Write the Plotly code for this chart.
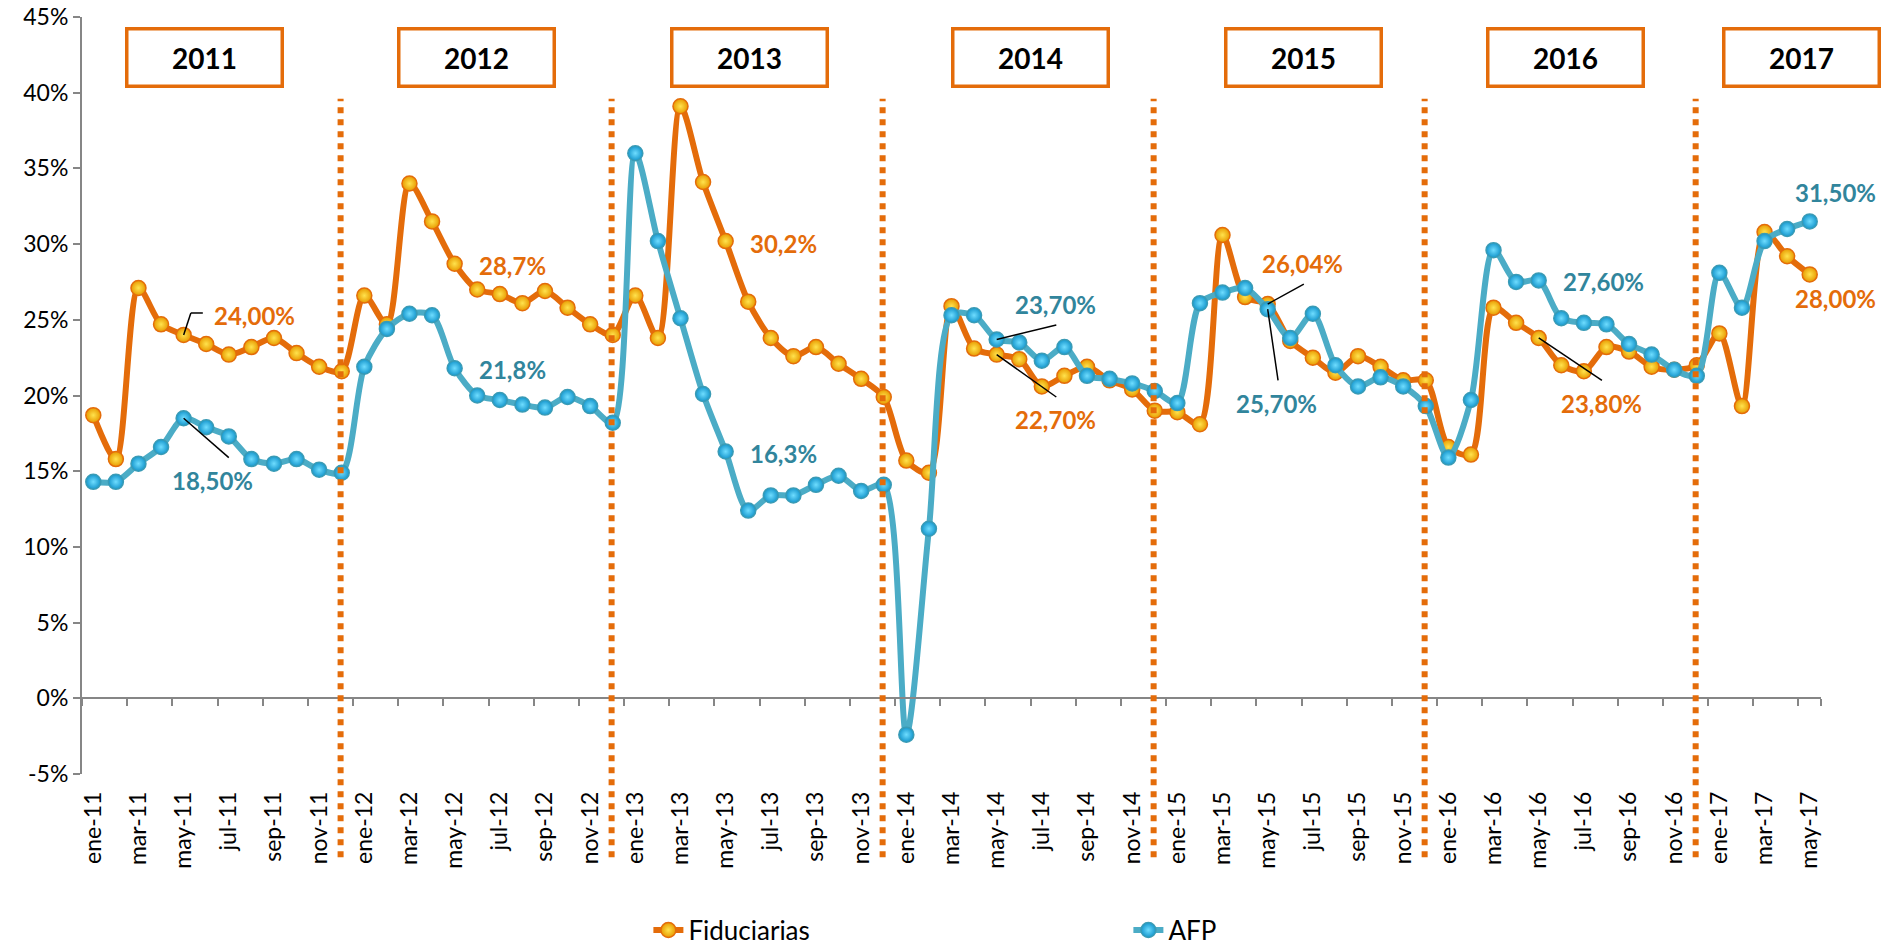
import plotly.graph_objects as go

# meses ene-11 .. may-17
MESES = ["ene", "feb", "mar", "abr", "may", "jun", "jul", "ago", "sep", "oct", "nov", "dic"]
months = [f"{m}-{y}" for y in range(11, 18) for m in MESES][:77]

fid_2011 = [18.7, 15.8, 27.1, 24.7, 24.0, 23.4, 22.7, 23.2, 23.8, 22.8, 21.9, 21.6]
fid_2012 = [26.6, 24.7, 34.0, 31.5, 28.7, 27.0, 26.7, 26.1, 26.9, 25.8, 24.7, 24.0]
fid_2013 = [26.6, 23.8, 39.1, 34.1, 30.2, 26.2, 23.8, 22.6, 23.2, 22.1, 21.1, 19.9]
fid_2014 = [15.7, 14.9, 25.9, 23.1, 22.7, 22.4, 20.6, 21.3, 21.9, 21.0, 20.4, 19.0]
fid_2015 = [18.9, 18.1, 30.6, 26.5, 26.04, 23.6, 22.5, 21.5, 22.6, 21.9, 21.0, 21.0]
fid_2016 = [16.6, 16.1, 25.8, 24.8, 23.8, 22.0, 21.6, 23.2, 22.9, 21.9, 21.7, 22.0]
fid_2017 = [24.1, 19.3, 30.8, 29.2, 28.0]

afp_2011 = [14.3, 14.3, 15.5, 16.6, 18.5, 17.9, 17.3, 15.8, 15.5, 15.8, 15.1, 14.9]
afp_2012 = [21.9, 24.4, 25.4, 25.3, 21.8, 20.0, 19.7, 19.4, 19.2, 19.9, 19.3, 18.2]
afp_2013 = [36.0, 30.2, 25.1, 20.1, 16.3, 12.4, 13.4, 13.4, 14.1, 14.7, 13.7, 14.1]
afp_2014 = [-2.4, 11.2, 25.3, 25.3, 23.7, 23.5, 22.3, 23.2, 21.3, 21.1, 20.8, 20.3]
afp_2015 = [19.5, 26.1, 26.8, 27.1, 25.7, 23.8, 25.4, 22.0, 20.6, 21.2, 20.6, 19.3]
afp_2016 = [15.9, 19.7, 29.6, 27.5, 27.6, 25.1, 24.8, 24.7, 23.4, 22.7, 21.7, 21.3]
afp_2017 = [28.1, 25.8, 30.2, 31.0, 31.5]

fiduciarias = fid_2011 + fid_2012 + fid_2013 + fid_2014 + fid_2015 + fid_2016 + fid_2017
afp = afp_2011 + afp_2012 + afp_2013 + afp_2014 + afp_2015 + afp_2016 + afp_2017

y_ticks = [-5, 0, 5, 10, 15, 20, 25, 30, 35, 40, 45]
y_ticktext = ["-5%", "0%", "5%", "10%", "15%", "20%", "25%", "30%", "35%", "40%", "45%"]

years = ["2011", "2012", "2013", "2014", "2015", "2016", "2017"]
year_box_x = [4.94, 16.98, 29.06, 41.5, 53.6, 65.2, 75.65]

# (text, x, y, serie)
labels = [
    ("24,00%", 5.25, 25.3, "fid"),
    ("18,50%", 3.38, 14.4, "afp"),
    ("28,7%", 16.98, 28.6, "fid"),
    ("21,8%", 16.98, 21.7, "afp"),
    ("30,2%", 29.0, 30.05, "fid"),
    ("16,3%", 29.0, 16.2, "afp"),
    ("23,70%", 40.74, 26.0, "afp"),
    ("22,70%", 40.74, 18.4, "fid"),
    ("26,04%", 51.67, 28.7, "fid"),
    ("25,70%", 50.5, 19.5, "afp"),
    ("27,60%", 65.0, 27.5, "afp"),
    ("23,80%", 64.9, 19.45, "fid"),
    ("31,50%", 75.25, 33.4, "afp"),
    ("28,00%", 75.25, 26.4, "fid"),
]

# leader lines (x0, y0, x1, y1)
leaders = [
    (4, 24.0, 4.32, 25.45),
    (4.32, 25.45, 4.85, 25.45),
    (4, 18.5, 6.0, 15.9),
    (40, 23.7, 42.64, 24.65),
    (40, 22.7, 42.64, 19.9),
    (52, 26.04, 53.6, 27.36),
    (52, 25.7, 52.46, 21.0),
    (64, 23.8, 66.8, 21.0),
]

ORANGE = "#E46C0A"
TEAL = "#4BACC6"
TEAL_TXT = "#31859C"
AXIS = "#868686"
FONT = "Lato"

fig = go.Figure()
fig.add_trace(go.Scatter(
    x=months, y=fiduciarias, name="Fiduciarias", mode="lines+markers",
    line=dict(color=ORANGE, width=6, shape="spline", smoothing=0.8),
    marker=dict(size=15, color="#E89A00", line=dict(color=ORANGE, width=1.5),
                gradient=dict(type="radial", color="#FFE34D")),
))
fig.add_trace(go.Scatter(
    x=months, y=afp, name="AFP", mode="lines+markers",
    line=dict(color=TEAL, width=6, shape="spline", smoothing=0.8),
    marker=dict(size=15, color="#1596CC", line=dict(color="#3A9BB5", width=1.5),
                gradient=dict(type="radial", color="#6FDDFF")),
))
# invisible carrier for the zero-line axis with ticks
fig.add_trace(go.Scatter(x=months, y=afp, xaxis="x2", mode="lines", opacity=0,
                         showlegend=False, hoverinfo="skip"))

for i, m in enumerate(months):
    if m.startswith("dic"):
        fig.add_shape(type="line", xref="x", yref="paper", x0=i - 0.05, x1=i - 0.05,
                      y0=-0.11, y1=0.892, layer="above",
                      line=dict(color=ORANGE, width=6, dash="6px,6px"))

for x0, y0, x1, y1 in leaders:
    fig.add_shape(type="line", xref="x", yref="y", x0=x0, y0=y0, x1=x1, y1=y1,
                  layer="above", line=dict(color="black", width=1.5))

for yr, bx in zip(years, year_box_x):
    fig.add_annotation(x=bx, y=42.3, xref="x", yref="y", text=f"<b>{yr}</b>",
                       showarrow=False, width=150, height=52, borderpad=1,
                       bordercolor=ORANGE, borderwidth=3.5, bgcolor="white",
                       font=dict(family=FONT, size=28, color="black"))

for txt, x, y, s in labels:
    fig.add_annotation(x=x, y=y, xref="x", yref="y", text=f"<b>{txt}</b>",
                       showarrow=False, xanchor="left",
                       font=dict(family=FONT, size=24, color=ORANGE if s == "fid" else TEAL_TXT))

fig.update_layout(
    width=1884, height=951,
    margin=dict(l=82, r=63, t=17, b=177),
    plot_bgcolor="white", paper_bgcolor="white",
    font=dict(family=FONT, size=23, color="black"),
    xaxis=dict(type="category", range=[-0.5, 76.5], tickmode="array",
               tickvals=months[::2], ticktext=months[::2], tickangle=-90,
               showline=False, ticks="", showgrid=False, zeroline=False,
               ticklabelstandoff=12, tickfont=dict(size=23), automargin=False),
    xaxis2=dict(type="category", overlaying="x", anchor="free", position=0.1,
                range=[-0.5, 76.5], tickmode="array", tickvals=months[::2],
                tickson="boundaries", ticks="outside", ticklen=7, tickwidth=2,
                tickcolor=AXIS, showline=True, linecolor=AXIS, linewidth=2,
                showticklabels=False, showgrid=False, zeroline=False, automargin=False),
    yaxis=dict(range=[-5, 45], tickmode="array", tickvals=y_ticks, ticktext=y_ticktext,
               showline=True, linecolor=AXIS, linewidth=2, ticks="outside", ticklen=7,
               tickwidth=2, tickcolor=AXIS, showgrid=False, zeroline=False,
               tickfont=dict(size=23), automargin=False),
    legend=dict(orientation="h", x=0.3257, xanchor="left", xref="paper",
                y=0.022, yanchor="middle", yref="container",
                entrywidth=435, font=dict(size=26)),
)

fig.write_html("out.html", config={"displayModeBar": False},
               post_script="document.body.style.margin='0';")
